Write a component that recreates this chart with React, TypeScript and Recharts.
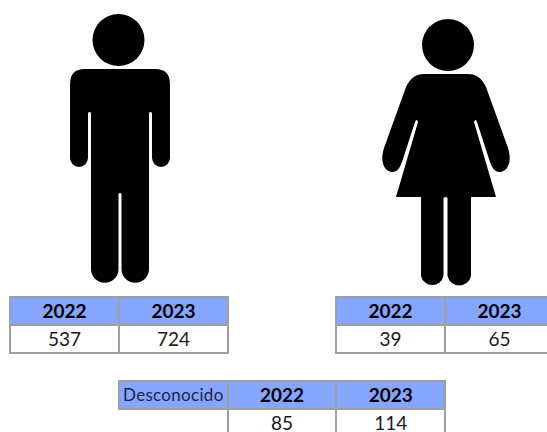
import React from 'react';
import { ComposedChart, Scatter, XAxis, YAxis } from 'recharts';

const years = ['2022', '2023'];
const hombres = [537, 724];
const mujeres = [39, 65];
const desconocidos = [85, 114];
const figures = ['Hombre', 'Mujer'];

const chartData = figures.map((figure, i) => ({
  figure,
  total: i === 0 ? hombres[1] : mujeres[1],
}));

const MAN_PATH =
  'M-35 69 L35 69 Q50 69 50 84 L50 158 A9 9 0 0 1 32 158 L32 113 Q30.5 111 29 113 L29 269 A13.75 13.75 0 0 1 1.5 269 L1.5 194 Q0 192 -1.5 194 L-1.5 269 A13.75 13.75 0 0 1 -29 269 L-29 113 Q-30.5 111 -32 113 L-32 158 A9 9 0 0 1 -50 158 L-50 84 Q-50 69 -35 69 Z';

const WOMAN_PATH =
  'M-22 74 L22 74 Q34 74 40 87 L62 148 C67 164 60 172 54 172 C48 172 46 167 44 162 L31 122 Q29.5 118 28 122 L50 197 L25 197 L25 276 A12 12 0 0 1 1.5 276 L1.5 198 Q0 196 -2.5 198 L-2.5 276 A11.5 11.5 0 0 1 -25 276 L-25 197 L-50 197 L-28 122 Q-29.5 118 -31 122 L-44 162 C-46 167 -48 172 -54 172 C-60 172 -67 164 -62 148 L-40 87 Q-34 74 -22 74 Z';

const PersonShape = (props: any) => {
  const isMan = props.payload.figure === 'Hombre';
  return (
    <g transform={`translate(${props.cx},0)`}>
      <circle cx={isMan ? -1.5 : 2} cy={isMan ? 40 : 45} r={26} fill="#000" />
      <path d={isMan ? MAN_PATH : WOMAN_PATH} fill="#000" />
    </g>
  );
};

const borderColor = '#9f9f9f';
const headerBlue = '#85a5ff';

const cellStyle: React.CSSProperties = {
  height: 28,
  padding: 0,
  border: `2px solid ${borderColor}`,
  textAlign: 'center',
  fontSize: 19,
  color: '#1a1a1a',
  boxSizing: 'border-box',
  lineHeight: '20px',
  overflow: 'hidden',
};

const StatTable = ({ left, top, values, label, colWidth }: { left: number; top: number; values: number[]; label?: string; colWidth: number }) => (
  <table
    style={{
      position: 'absolute',
      left,
      top,
      width: colWidth * (values.length + (label ? 1 : 0)),
      borderCollapse: 'collapse',
      tableLayout: 'fixed',
      fontFamily: 'Lato, sans-serif',
    }}
  >
    <tbody>
      <tr>
        {label && (
          <td style={{ ...cellStyle, width: colWidth, background: headerBlue, fontSize: 17, letterSpacing: 0.3, color: '#1c2640' }}>{label}</td>
        )}
        {years.map(y => (
          <td key={y} style={{ ...cellStyle, width: colWidth, background: headerBlue, fontWeight: 700, color: '#000' }}>{y}</td>
        ))}
      </tr>
      <tr>
        {label && <td style={{ ...cellStyle, border: 'none', borderRight: `2px solid ${borderColor}` }} />}
        {values.map((v, i) => (
          <td key={i} style={cellStyle}>{v}</td>
        ))}
      </tr>
    </tbody>
  </table>
);

export default function App() {
  return (
    <div style={{ position: 'absolute', left: 0, top: 0, width: 547, height: 432, overflow: 'hidden', background: '#fff' }}>
      <ComposedChart width={547} height={432} data={chartData} margin={{ top: 0, right: 101, bottom: 0, left: 120 }}>
        <XAxis dataKey="figure" type="category" scale="point" padding={{ left: 0, right: 0 }} hide />
        <YAxis type="number" domain={[0, 800]} hide />
        <Scatter dataKey="total" isAnimationActive={false} shape={PersonShape} />
      </ComposedChart>
      <StatTable left={9} top={296} colWidth={109} values={hombres} />
      <StatTable left={335} top={296} colWidth={109} values={mujeres} />
      <StatTable left={118} top={380} colWidth={108.7} values={desconocidos} label="Desconocido" />
    </div>
  );
}
